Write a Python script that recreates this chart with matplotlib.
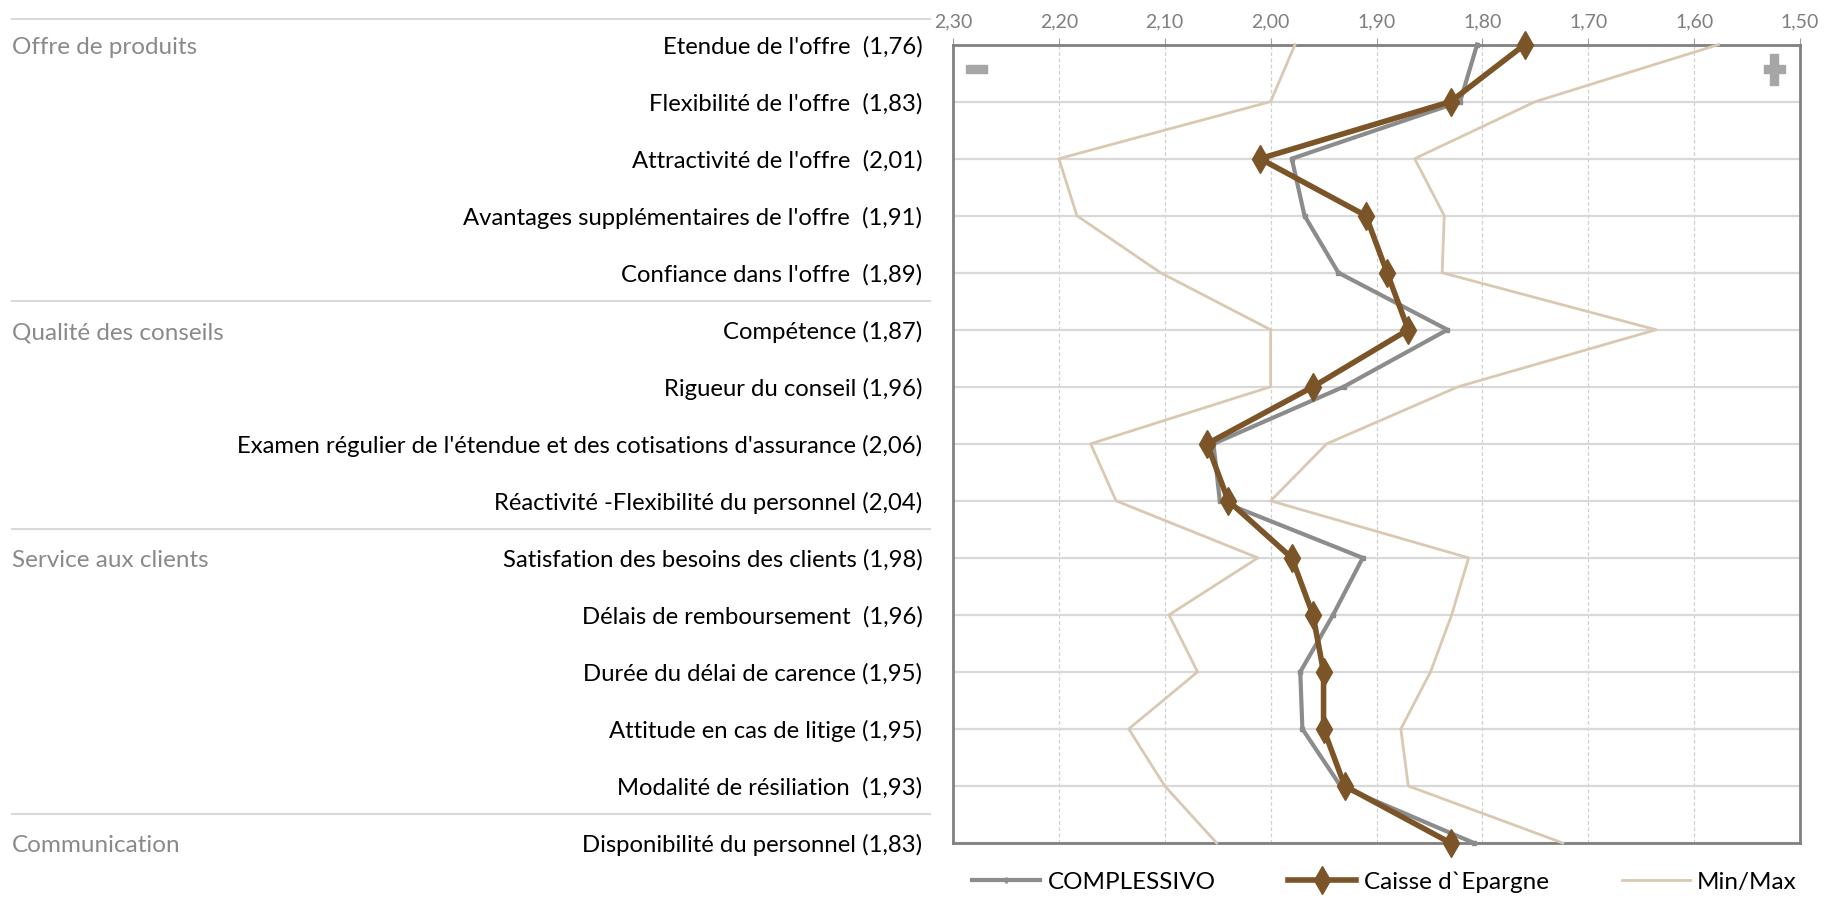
import numpy as np
import matplotlib
matplotlib.use('Agg')
import matplotlib.pyplot as plt
import matplotlib.transforms as mtransforms
from matplotlib.lines import Line2D
from matplotlib.patches import Rectangle

plt.rcParams['font.family'] = ['Lato', 'DejaVu Sans']

labels = ["Etendue de l'offre  (1,76)",
          "Flexibilité de l'offre  (1,83)",
          "Attractivité de l'offre  (2,01)",
          "Avantages supplémentaires de l'offre  (1,91)",
          "Confiance dans l'offre  (1,89)",
          "Compétence (1,87)",
          "Rigueur du conseil (1,96)",
          "Examen régulier de l'étendue et des cotisations d'assurance (2,06)",
          "Réactivité -Flexibilité du personnel (2,04)",
          "Satisfation des besoins des clients (1,98)",
          "Délais de remboursement  (1,96)",
          "Durée du délai de carence (1,95)",
          "Attitude en cas de litige (1,95)",
          "Modalité de résiliation  (1,93)",
          "Disponibilité du personnel (1,83)"]

groups = ["Offre de produits", "Qualité des conseils", "Service aux clients", "Communication"]
group_start = [0, 5, 9, 14]

complessivo = [1.805, 1.821, 1.980, 1.968, 1.936, 1.833, 1.931, 2.054, 2.048,
               1.913, 1.941, 1.972, 1.970, 1.934, 1.808]
caisse = [1.76, 1.83, 2.01, 1.91, 1.89, 1.87, 1.96, 2.06, 2.04,
          1.98, 1.96, 1.95, 1.95, 1.93, 1.83]
val_min = [1.977, 2.00, 2.20, 2.183, 2.104, 2.00, 2.00, 2.170, 2.146,
           2.012, 2.096, 2.069, 2.134, 2.10, 2.051]
val_max = [1.577, 1.750, 1.864, 1.836, 1.838, 1.636, 1.823, 1.947, 2.00,
           1.813, 1.829, 1.849, 1.877, 1.870, 1.724]

xticks = [2.30, 2.20, 2.10, 2.00, 1.90, 1.80, 1.70, 1.60, 1.50]

W, H = 1841, 900
fig = plt.figure(figsize=(W / 100, H / 100), dpi=100)
ax = fig.add_axes([953 / W, 1 - 843 / H, (1800 - 953) / W, (843 - 44.6) / H])

y = np.arange(len(labels))
beige = '#d9c9b2'
grey = '#8c8c8c'
brown = '#7b5427'

ax.plot(val_min, y, color=beige, lw=2, zorder=3, clip_on=False)
ax.plot(val_max, y, color=beige, lw=2, zorder=3, clip_on=False)
ax.plot(complessivo, y, color=grey, lw=3, marker='s', ms=3, zorder=4, clip_on=False)
ax.plot(caisse, y, color=brown, lw=4, marker='d', ms=14, zorder=5, clip_on=False)

ax.set_xlim(2.30, 1.50)
ax.set_ylim(len(labels) - 1, 0)
ax.xaxis.tick_top()
ax.set_xticks(xticks)
ax.set_xticklabels([('%.2f' % v).replace('.', ',') for v in xticks],
                   color='#7f7f7f', fontsize=14)
ax.tick_params(axis='x', length=5, color='#a0a0a0', pad=5)
ax.set_yticks(y)
ax.set_yticklabels(labels, fontsize=17.2)
ax.tick_params(axis='y', length=0, pad=22)

ax.grid(axis='x', color='#d0d0d0', ls=(0, (3, 2)), lw=0.9)
ax.grid(axis='y', color='#d9d9d9', ls='-', lw=1.6)
ax.set_axisbelow(True)
for s in ax.spines.values():
    s.set_color('#808080')
    s.set_linewidth(2)

# minus / plus signs
ax.add_patch(Rectangle((0.015, 0.964), 0.025, 0.01, transform=ax.transAxes,
                       color='#a6a6a6', clip_on=False))
ax.add_patch(Rectangle((0.957, 0.964), 0.025, 0.01, transform=ax.transAxes,
                       color='#a6a6a6', clip_on=False))
ax.add_patch(Rectangle((0.9645, 0.95), 0.01, 0.038, transform=ax.transAxes,
                       color='#a6a6a6', clip_on=False))

# group labels and separators
tr = mtransforms.blended_transform_factory(fig.transFigure, ax.transData)
for g, i in zip(groups, group_start):
    fig.text(12 / W, i + 0.05, g, transform=tr, fontsize=17.5, color='#8a8a8a',
             va='center', ha='left')
    yy = i - 0.45 if i == 0 else i - 0.5
    fig.add_artist(Line2D([12 / W, 930 / W], [yy, yy], transform=tr,
                          color='#d9d9d9', lw=1.5))

handles = [Line2D([], [], color=grey, lw=3, marker='|', ms=5, mew=2),
           Line2D([], [], color=brown, lw=4, marker='d', ms=14),
           Line2D([], [], color=beige, lw=2)]
fig.legend(handles, ['COMPLESSIVO', "Caisse d`Epargne", 'Min/Max'],
           loc='center', bbox_to_anchor=(0.752, 0.02), ncol=3, frameon=False,
           fontsize=17.5, handlelength=2.8, columnspacing=3.0, handletextpad=0.3)

fig.savefig('out.png', dpi=100)
